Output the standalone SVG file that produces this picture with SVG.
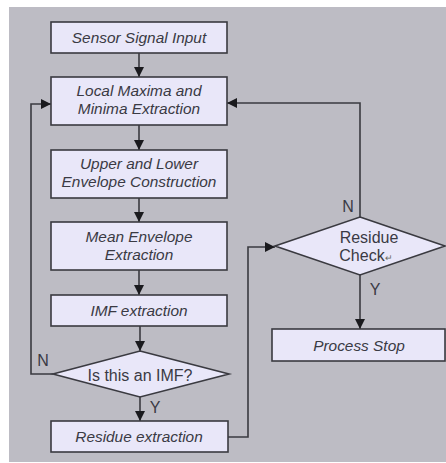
<svg xmlns="http://www.w3.org/2000/svg" width="446" height="463" viewBox="0 0 446 463">
<style>
.box{fill:#e9e7f9;stroke:#3a3a40;stroke-width:1.6}
.t{font-family:"Liberation Sans",Arial,sans-serif;font-size:15.4px;font-style:italic;fill:#3a3a44;text-anchor:middle}
.n{font-family:"Liberation Sans",Arial,sans-serif;font-size:16px;fill:#3a3a44;text-anchor:middle}
.lb{font-family:"Liberation Sans",Arial,sans-serif;font-size:16px;fill:#3a3a44;text-anchor:middle}
.c{fill:none;stroke:#3a3a40;stroke-width:1.6}
</style>
<defs>
<marker id="ah" viewBox="0 0 10 10" refX="10" refY="5" markerWidth="10" markerHeight="10" markerUnits="userSpaceOnUse" orient="auto">
<path d="M0,0 L10,5 L0,10 Z" fill="#1a1a1e"/>
</marker>
</defs>
<rect x="0" y="0" width="446" height="463" fill="#ffffff"/>
<rect x="9" y="7" width="437" height="455" fill="#bdbcc4"/>

<g id="connectors">
<line class="c" x1="139" y1="53" x2="139" y2="77" marker-end="url(#ah)"/>
<line class="c" x1="139" y1="125" x2="139" y2="150" marker-end="url(#ah)"/>
<line class="c" x1="139" y1="198" x2="139" y2="222" marker-end="url(#ah)"/>
<line class="c" x1="139" y1="270" x2="139" y2="295" marker-end="url(#ah)"/>
<line class="c" x1="140" y1="326" x2="140" y2="351" marker-end="url(#ah)"/>
<line class="c" x1="140" y1="397" x2="140" y2="421" marker-end="url(#ah)"/>
<polyline class="c" points="53,374 31,374 31,104 51,104" marker-end="url(#ah)"/>
<polyline class="c" points="228,437 248,437 248,247 275,247" marker-end="url(#ah)"/>
<polyline class="c" points="360,217 360,103 227,103" marker-end="url(#ah)"/>
<line class="c" x1="360" y1="275" x2="360" y2="329" marker-end="url(#ah)"/>
<text class="lb" x="43" y="366">N</text>
<text class="lb" x="155" y="413">Y</text>
<text class="lb" x="348" y="212">N</text>
<text class="lb" x="375" y="295">Y</text>
</g>

<g id="sensor">
<rect class="box" x="51" y="22" width="176" height="31"/>
<text class="t" x="139" y="43">Sensor Signal Input</text>
</g>
<g id="local">
<rect class="box" x="51" y="77" width="176" height="48"/>
<text class="t" x="139" y="96">Local Maxima and</text>
<text class="t" x="139" y="114">Minima Extraction</text>
</g>
<g id="envelope">
<rect class="box" x="51" y="150" width="176" height="48"/>
<text class="t" x="139" y="169">Upper and Lower</text>
<text class="t" x="139" y="187">Envelope Construction</text>
</g>
<g id="mean">
<rect class="box" x="51" y="222" width="176" height="48"/>
<text class="t" x="139" y="242">Mean Envelope</text>
<text class="t" x="139" y="260">Extraction</text>
</g>
<g id="imf">
<rect class="box" x="51" y="295" width="176" height="31"/>
<text class="t" x="139" y="316">IMF extraction</text>
</g>
<g id="isimf">
<polygon class="box" points="140,351 229,374 140,397 53,374"/>
<text class="n" x="140" y="381" font-size="17.5">Is this an IMF?</text>
</g>
<g id="residue">
<rect class="box" x="51" y="421" width="177" height="31"/>
<text class="t" x="139" y="442">Residue extraction</text>
</g>
<g id="check">
<polygon class="box" points="360,217 445,246 360,275 275,246"/>
<text class="n" x="369" y="243">Residue</text>
<text class="n" x="366" y="261">Check<tspan font-size="9" fill="#6a6a60">↵</tspan></text>
</g>
<g id="stop">
<rect class="box" x="272" y="329" width="173" height="32"/>
<text class="t" x="359" y="351">Process Stop</text>
</g>
</svg>
